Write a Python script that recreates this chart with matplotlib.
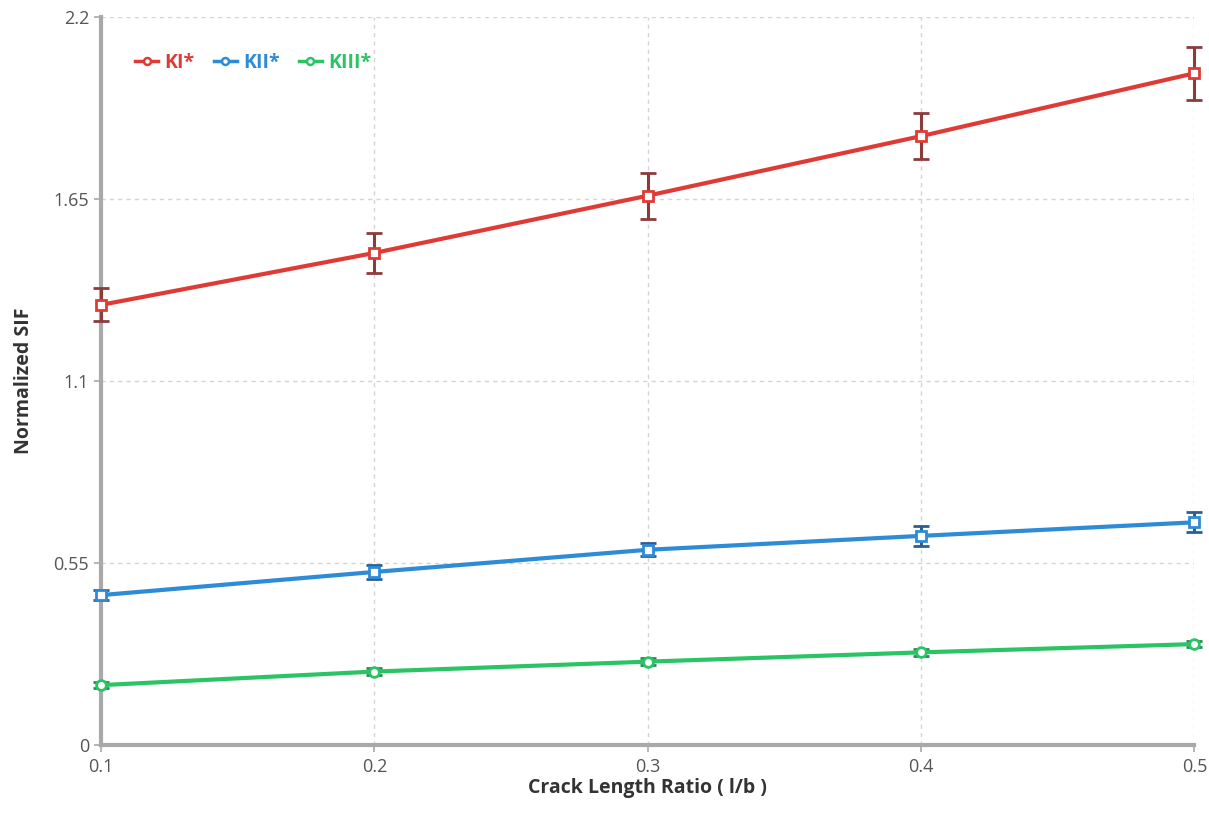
import matplotlib
matplotlib.use("Agg")
import matplotlib.pyplot as plt
from matplotlib.lines import Line2D

# Crack length ratio l/b
ratio = [0.1, 0.2, 0.3, 0.4, 0.5]

# Normalized stress intensity factors and their spread
ki = [1.33, 1.487, 1.66, 1.84, 2.03]
ki_err = [0.05, 0.06, 0.07, 0.07, 0.08]
kii = [0.453, 0.523, 0.59, 0.632, 0.673]
kii_err = [0.015, 0.02, 0.02, 0.03, 0.03]
kiii = [0.181, 0.222, 0.252, 0.28, 0.305]
kiii_err = [0.01, 0.01, 0.01, 0.01, 0.01]

series_names = ["KI*", "KII*", "KIII*"]
y_ticks = [0, 0.55, 1.1, 1.65, 2.2]
y_tick_labels = ["0", "0.55", "1.1", "1.65", "2.2"]
x_tick_labels = ["0.1", "0.2", "0.3", "0.4", "0.5"]

plt.rcParams["font.family"] = ["Open Sans", "DejaVu Sans"]

fig = plt.figure(figsize=(12.09, 8.13), dpi=100)
ax = fig.add_axes([0.0835, 0.0836, 0.9045, 0.8955])

styles = [
    (ki, ki_err, "#de3b36", "#8c3b3b", "s"),
    (kii, kii_err, "#2e8bd6", "#2b5f8f", "s"),
    (kiii, kiii_err, "#2bc465", "#2a8a55", "o"),
]
handles = []
for (vals, errs, col, ecol, mk), name in zip(styles, series_names):
    ax.errorbar(ratio, vals, yerr=errs, color=col, ecolor=ecol, elinewidth=2.2,
                capsize=6, capthick=2.2, lw=3, marker=mk, markersize=7,
                markerfacecolor="white", markeredgecolor=col, markeredgewidth=2,
                zorder=3, clip_on=False)
    handles.append(Line2D([], [], color=col, lw=2.5, marker="o", markersize=5,
                          markerfacecolor="white", markeredgecolor=col,
                          markeredgewidth=1.8, label=name))

ax.set_xlim(0.1, 0.5)
ax.set_ylim(0, 2.2)
ax.set_xticks(ratio)
ax.set_xticklabels(x_tick_labels)
ax.set_yticks(y_ticks)
ax.set_yticklabels(y_tick_labels)

ax.grid(True, color="#d4d4d4", linestyle=(0, (3, 3)), linewidth=1)
ax.set_axisbelow(True)

for side in ("top", "right"):
    ax.spines[side].set_visible(False)
for side in ("left", "bottom"):
    ax.spines[side].set_color("#a9a9a9")
    ax.spines[side].set_linewidth(3)

ax.tick_params(axis="both", colors="#a9a9a9", labelcolor="#555555",
               labelsize=13, length=5, width=1.2, direction="out")
ax.tick_params(axis="x", pad=4)

ax.set_xlabel("Crack Length Ratio ( l/b )", fontsize=14, fontweight="bold",
              color="#333333", labelpad=2)
ax.set_ylabel("Normalized SIF", fontsize=14, fontweight="bold",
              color="#333333", labelpad=14)

leg = ax.legend(handles=handles, loc="upper left", bbox_to_anchor=(0.015, 0.975),
                ncol=3, frameon=False, handlelength=1.2, handletextpad=0.3,
                columnspacing=1.0, prop={"weight": "bold", "size": 14})
for txt, (_, _, col, _, _) in zip(leg.get_texts(), styles):
    txt.set_color(col)

fig.savefig("out.png", dpi=100, facecolor="white")
